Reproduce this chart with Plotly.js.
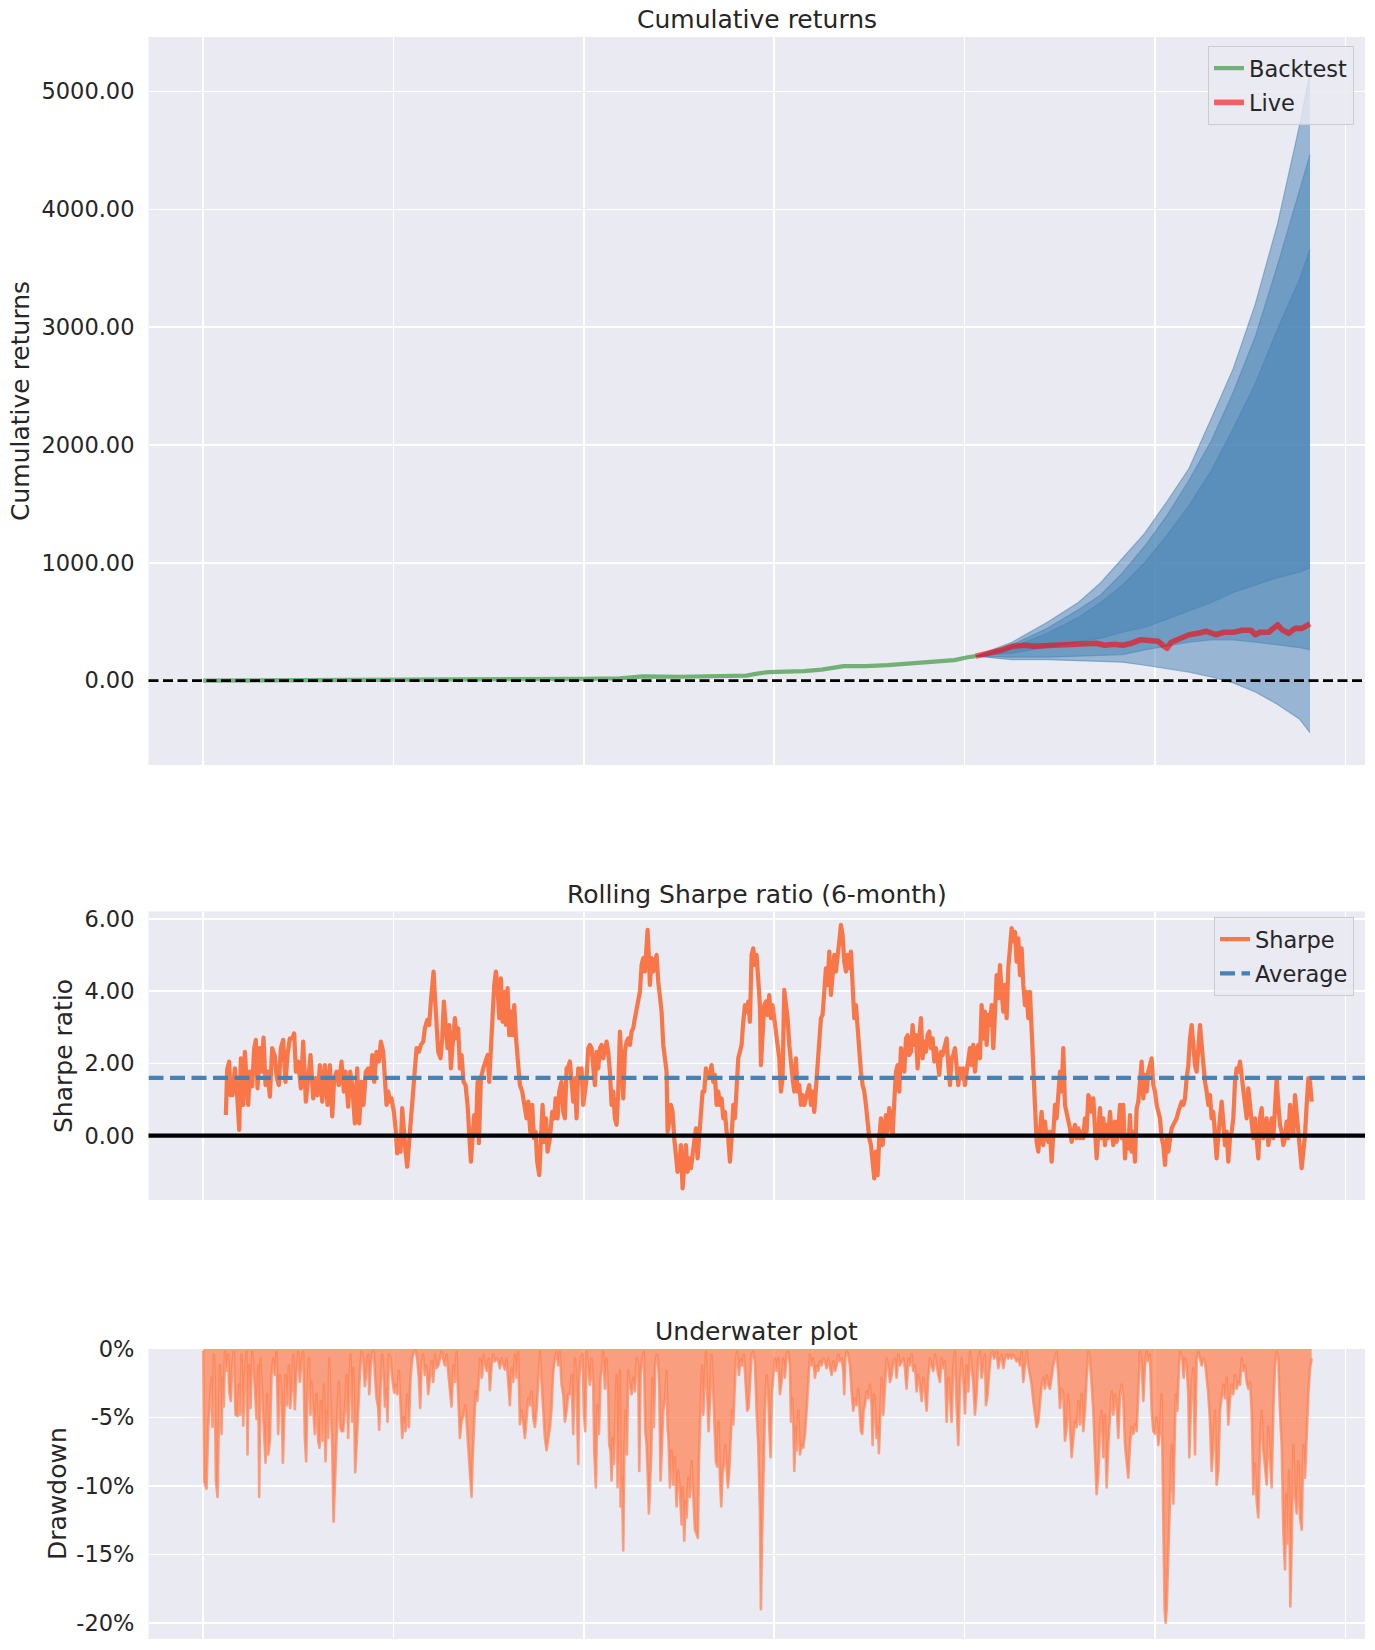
<!DOCTYPE html>
<html><head><meta charset="utf-8">
<script src="https://cdn.plot.ly/plotly-3.0.1.min.js"></script>
<style>
html,body{margin:0;padding:0;background:#fff;}
#chart{width:1375px;height:1650px;}
.js-line{stroke-linejoin:round;}
</style></head>
<body><div id="chart"></div>
<script>
// ---------------- DATA (x = trading-day index from start of backtest) ----------------
const backtestDay = [0,300,600,900,1142,1250,1300,1319,1430,1563,1629,1662,1696,1802,1855,1921,1988,2054,2121,2187,2253,2293,2317];
const backtestCum = [0,2,5,9,14,18,24,35,32,38,42,59,72,80,93,122,122,131,144,156,173,198,207];

const liveDay = [2317,2360,2399,2426,2466,2492,2532,2572,2612,2652,2678,2705,2731,2758,2785,2811,2838,2864,2878,2891,2904,2931,2957,2984,3010,3037,3063,3090,3117,3143,3156,3170,3196,3223,3236,3256,3276,3296,3320];
const liveCum = [207,232,262,291,300,291,296,304,300,308,317,300,308,300,317,346,338,334,300,274,325,359,389,401,418,389,410,410,427,427,389,410,410,473,431,401,443,443,481];

const coneDay     = [2317,2426,2532,2625,2692,2758,2824,2891,2957,3024,3090,3156,3223,3289,3320];
const coneUpper2  = [207,325,494,663,830,1043,1250,1520,1800,2225,2650,3197,3880,4720,5161];
const coneUpper15 = [207,304,443,600,726,916,1140,1400,1700,2035,2450,2920,3530,4168,4464];
const coneUpper1  = [207,283,401,536,663,811,1001,1233,1486,1782,2141,2521,2986,3408,3661];
const coneLower1  = [207,232,283,325,360,410,450,520,590,663,747,811,874,920,958];
const coneLower15 = [207,198,198,207,212,220,260,295,325,346,346,325,304,280,262];
const coneLower2  = [207,177,177,170,163,156,130,100,72,30,-20,-97,-203,-329,-443];
const cumBaseline = 0;

const sharpeDay = [
68,72,78,82,88,95,102,108,113,120,
125,130,135,140,147,153,158,163,170,175,
181,187,193,200,207,215,221,227,233,240,
247,253,260,267,273,278,285,293,300,308,
315,322,330,337,343,350,357,365,373,380,
387,393,400,407,415,422,427,435,441,447,
455,462,468,475,481,488,495,503,507,513,
520,527,533,540,545,550,555,560,565,572,
578,582,587,592,597,602,607,612,618,623,
628,635,640,647,653,660,665,672,678,683,
688,691,695,700,705,712,717,722,728,733,
738,743,749,755,760,765,770,775,781,787,
793,798,803,808,813,818,823,827,833,840,
847,853,858,863,868,873,878,883,888,893,
898,903,908,913,918,923,928,933,938,943,
950,957,965,970,975,981,987,992,997,1002,
1008,1013,1018,1023,1028,1033,1040,1047,1053,1057,
1063,1068,1075,1080,1085,1090,1095,
1100,1105,1110,1115,1120,1125,1130,1135,1140,1145,
1150,1155,1160,1165,1170,1175,1180,1185,1190,1195,
1200,1205,1210,1215,1220,1225,1230,1235,1240,1245,
1250,1255,1260,1265,1270,1275,1280,1285,1290,1295,
1300,1305,1310,1315,1320,1325,1330,1333,1337,1340,
1345,1350,1355,1360,1365,1370,1375,1380,1385,1390,
1393,1398,1403,1408,1413,1418,1423,1428,1433,1438,
1443,1448,1453,1458,1463,1468,1473,1478,1483,1488,
1493,1498,1503,1508,1513,1518,1525,1530,1535,1540,
1545,1550,1555,1560,1565,1570,1575,1580,1585,1590,
1595,1600,1605,1610,1615,1620,1625,1630,1635,1640,
1645,1650,1655,1660,1665,1670,1673,1678,1683,1688,
1693,1698,1703,1708,1713,1718,1723,1728,1733,1738,
1743,1748,1753,1758,1763,1768,1773,1778,1783,1788,
1793,1798,1803,1808,1813,1818,1823,1828,1833,1838,
1843,1848,1853,1858,1863,1868,1873,1878,1883,1888,
1893,1898,1903,1908,1913,1918,1923,1928,1933,1938,
1943,1948,1953,1958,1963,1968,1973,1978,1983,1988,
1993,1998,2003,2008,2013,2018,2023,2028,2033,2038,
2043,2048,2053,2058,2063,2068,2073,2078,2083,2088,
2093,2098,2103,2108,2113,2118,2123,2128,2133,2138,
2143,2148,2153,2158,2163,2168,2173,2178,2183,2188,
2193,2198,2203,2208,2213,2218,2223,
2225,2230,2235,2240,2245,2250,2255,2260,2265,2270,
2275,2280,2285,2290,2295,2300,2305,2310,2315,2320,
2325,2330,2335,2340,2345,2350,2355,2360,2365,2370,
2375,2380,2385,2390,2395,2400,2405,2410,2415,2420,
2425,2430,2435,2440,2445,2450,2455,2460,2465,2470,
2475,2480,2485,2490,2495,2500,2505,2510,2515,2520,
2525,2530,2535,2540,2545,2550,2555,2560,2565,2570,
2575,2580,2585,2590,2595,2600,2605,2610,2615,2620,
2625,2630,2635,2640,2645,2650,2655,2660,2665,2670,
2675,2680,2685,2690,2695,2700,2705,2710,2715,2720,
2725,2730,2735,2740,2745,2750,2755,2760,2765,2770,
2775,2780,2785,2790,2795,2800,2805,2810,2815,2820,
2825,2830,2835,2840,2845,2850,2855,2860,2865,2870,
2875,2880,2885,2890,2895,2900,2905,2910,2915,2920,
2925,2930,2935,2940,2945,2950,2955,2960,2965,2970,
2975,2980,2985,2990,2995,3000,3005,3010,3015,3020,
3025,3030,3035,3040,3045,3050,3055,3060,3065,3070,
3075,3080,3085,3090,3095,3100,3105,3110,3115,3120,
3125,3130,3135,3140,3145,3150,3155,3160,3165,3170,
3175,3180,3185,3190,3195,3200,3205,3210,3215,3220,
3225,3230,3235,3240,3245,3250,3255,3260,3265,3270,
3275,3280,3285,3290,3295,3300,3305,3310,3315,3320,
3325];
const sharpeValue = [
0.57,1.82,2.05,1.12,1.12,1.86,1.12,0.16,2.14,0.85,
2.32,1.59,0.85,1.77,1.36,2.42,2.65,1.31,2.42,1.77,
2.71,1.40,1.77,1.08,2.42,2.19,1.59,1.40,2.42,2.65,
1.49,2.23,2.69,2.69,2.83,1.77,2.05,1.31,2.60,0.94,
1.77,2.23,1.03,1.59,1.12,1.95,0.94,1.95,0.85,1.95,
0.53,1.59,1.77,1.40,2.05,1.22,1.77,0.80,1.77,1.40,
0.34,1.86,0.34,1.49,0.85,1.77,1.86,1.59,2.23,1.49,
2.32,2.05,2.60,2.32,1.59,0.85,1.22,0.94,1.03,0.66,
0.11,-0.49,-0.07,-0.44,0.76,-0.07,-0.44,-0.86,-0.07,0.48,
1.22,1.77,2.42,2.32,2.51,2.60,2.97,3.20,3.06,3.71,
4.35,4.54,3.89,3.15,2.32,2.14,2.69,3.71,2.88,2.42,
3.06,1.86,2.60,3.25,2.69,2.97,1.86,2.23,1.49,1.40,
0.85,0.11,-0.72,-0.07,0.57,0.02,1.49,-0.21,1.59,1.86,
2.05,2.23,1.49,2.51,3.52,4.17,4.54,4.08,3.25,4.35,
3.15,3.98,3.06,4.08,2.78,3.43,2.78,3.61,2.74,2.05,
1.40,1.22,0.85,0.48,0.94,0.11,0.85,-0.07,0.11,-0.72,
-1.09,-0.07,0.85,-0.17,0.48,-0.44,-0.07,0.66,0.48,1.03,
0.48,1.22,1.49,0.66,0.48,1.86,1.91,
2.05,1.59,0.94,1.59,0.48,1.86,1.59,1.86,0.85,1.22,
1.59,2.42,2.51,2.42,1.77,1.40,2.32,1.86,2.42,2.51,
2.14,2.42,2.60,2.32,1.77,0.85,1.22,0.48,0.30,1.22,
2.88,2.05,1.03,2.32,2.60,2.69,2.51,2.88,2.97,3.25,
3.52,3.71,3.98,4.72,4.91,4.54,5.55,5.69,4.91,4.17,
4.91,4.54,4.81,5.00,4.26,3.80,3.43,2.51,2.23,1.77,
0.11,0.39,0.85,0.66,-0.07,-0.63,-1.00,-0.81,-0.26,-1.46,
-0.72,-0.26,-1.00,-0.63,-0.90,-0.53,0.02,0.20,-0.63,-0.07,
0.48,1.22,1.22,1.86,1.59,1.59,1.95,1.49,1.68,0.85,
1.22,0.85,1.03,0.48,0.66,0.11,-0.07,-0.72,-0.07,0.85,
0.48,1.59,2.14,2.32,2.51,3.15,3.61,3.43,3.71,3.15,
5.00,5.18,4.72,5.00,4.26,3.61,1.95,2.88,3.61,3.71,
3.34,3.89,3.25,3.61,3.25,3.06,2.69,2.14,1.22,1.59,
4.03,3.71,3.25,2.51,1.95,1.59,1.22,2.14,1.22,1.40,
0.85,1.12,0.85,1.03,1.22,1.40,0.85,1.22,0.66,1.31,
1.77,2.51,3.25,3.34,3.89,4.63,4.17,5.09,3.89,4.35,
5.00,4.54,5.09,5.37,5.83,5.55,4.81,4.54,5.00,4.63,
5.09,3.98,3.25,3.61,2.88,2.32,1.77,1.40,1.22,0.85,
0.30,-0.07,-0.26,-0.90,-1.18,-0.44,-1.09,-0.07,0.48,-0.26,
0.30,0.57,0.11,0.76,0.48,0.02,0.94,1.77,1.95,1.22,
2.42,2.14,1.77,2.69,2.78,2.23,2.32,3.06,2.51,2.78,
1.86,2.69,3.25,2.14,2.60,2.32,2.78,2.88,2.42,2.69,
2.05,2.42,1.95,1.68,2.32,2.23,2.42,
2.51,2.69,1.95,1.40,2.14,2.23,2.42,1.77,1.40,1.86,
1.59,1.86,1.40,1.77,2.14,2.42,1.95,2.51,1.77,2.32,
2.51,2.14,3.61,2.69,3.43,2.51,3.34,3.06,3.61,2.42,
3.34,4.44,3.80,4.72,3.98,3.43,4.17,3.25,4.63,5.18,
5.74,5.37,5.64,4.81,5.46,4.44,5.18,4.17,3.61,3.98,
3.25,3.98,2.69,2.05,0.85,-0.17,-0.44,0.11,0.66,-0.26,
0.39,-0.07,-0.17,0.11,-0.72,0.02,0.85,0.48,1.03,1.77,
1.22,2.42,0.85,0.66,0.48,0.20,-0.17,0.11,0.30,-0.07,
0.20,-0.07,0.11,-0.07,0.48,0.11,1.12,1.03,0.66,1.03,
0.30,-0.63,0.11,0.76,-0.07,0.48,-0.26,0.30,-0.07,0.66,
0.11,-0.26,0.39,-0.17,0.20,0.85,-0.07,0.85,-0.63,0.02,
-0.35,0.57,-0.44,0.11,-0.72,0.76,0.94,1.40,2.05,1.03,
1.68,1.22,1.77,1.95,2.14,1.40,1.22,0.85,0.66,0.48,
-0.07,-0.26,-0.81,-0.07,-0.44,0.02,0.20,0.30,0.39,0.48,
0.66,0.85,0.94,0.85,1.03,1.59,1.95,2.69,3.06,2.51,
1.95,1.77,2.32,3.06,2.51,1.95,1.49,1.22,0.85,1.12,
0.48,0.66,-0.07,-0.63,0.02,0.48,0.94,0.39,-0.26,0.11,
-0.72,-0.07,0.11,0.48,1.49,1.86,1.77,2.05,1.59,1.22,
0.85,0.48,1.31,0.85,0.30,-0.07,0.48,-0.07,-0.63,0.48,
0.76,-0.07,0.11,0.48,-0.26,0.11,0.48,-0.07,0.85,1.59,
0.85,0.30,0.11,-0.26,-0.07,0.39,-0.07,0.85,0.48,0.02,
1.12,0.66,-0.07,-0.44,-0.90,-0.44,0.02,0.85,1.59,1.49,
0.94];
const sharpeAverage = 1.60;

const drawdownDay = [
0,1,3,10,15,20,25,28,32,35,
38,43,47,50,55,58,62,65,70,75,
78,83,87,92,97,103,108,111,115,120,
125,130,133,137,142,147,153,160,165,168,
172,177,182,187,192,195,200,205,210,215,
220,225,230,235,239,243,247,252,257,261,
265,270,275,280,285,290,293,300,305,309,
313,317,322,325,330,335,340,345,349,353,
358,362,367,371,375,378,383,387,391,395,
399,403,407,411,415,420,425,430,435,438,
442,447,451,456,461,465,470,475,480,485,
490,495,498,502,507,512,515,520,525,528,
532,537,542,545,549,553,557,562,567,573,
577,582,587,592,597,602,607,612,617,622,
627,632,637,642,647,651,655,660,665,670,
675,680,685,690,695,700,705,710,715,720,
725,730,735,740,745,750,755,760,765,770,
775,781,787,792,797,801,805,808,813,817,
822,827,831,836,841,846,851,856,860,865,
870,875,880,885,890,895,900,905,910,915,
920,925,930,935,940,945,950,955,960,965,
970,975,980,985,990,995,1000,1005,1010,1015,
1020,1025,1030,1035,1040,1045,1050,1055,1060,1065,
1070,1075,1080,1085,1090,1095,
1100,1105,1110,1115,1120,1125,1128,1133,1138,1142,
1146,1150,1155,1160,1165,1170,1173,1178,1182,1187,
1192,1197,1200,1205,1210,1215,1218,1222,1225,1228,
1232,1236,1240,1243,1247,1250,1252,1256,1260,1263,
1267,1271,1275,1280,1285,1290,1295,1300,1305,1308,
1312,1317,1322,1326,1330,1334,1337,1340,1344,1348,
1352,1356,1360,1364,1368,1372,1376,1380,1385,1390,
1393,1396,1400,1405,1410,1415,1420,1425,1430,1435,
1438,1443,1447,1450,1455,1460,1465,1470,1475,1480,
1484,1487,1491,1496,1500,1504,1508,1512,1516,1520,
1525,1530,1534,1538,1542,1546,1550,1554,1558,1562,
1566,1570,1574,1578,1582,1586,1590,1594,1598,1602,
1607,1612,1617,1622,1627,1632,1636,1640,1645,1650,
1655,1660,1665,1670,1673,1676,1680,1685,1690,1695,
1698,1702,1706,1710,1715,1720,1725,1730,1735,1740,
1745,1750,1755,1760,1763,1767,1770,1773,1777,1780,
1785,1790,1795,1800,1805,1810,1815,1820,1825,1830,
1835,1840,1845,1850,1855,1860,1865,1870,1875,1880,
1885,1890,1895,1900,1905,1910,1915,1920,1923,1926,
1930,1935,1940,1945,1950,1955,1960,1965,1970,1973,
1977,1981,1985,1990,1995,2000,2005,2008,2012,2016,
2020,2024,2027,2031,2035,2040,2045,2050,2055,2060,
2065,2070,2075,2080,2085,2090,2095,2100,2105,2110,
2115,2120,2125,2130,2135,2140,2145,2150,2155,2160,
2165,2170,2175,2180,2185,2190,2195,2200,2205,2210,
2215,2220,
2225,2230,2235,2240,2245,2250,2255,2260,2265,2270,
2275,2280,2285,2290,2295,2300,2305,2310,2315,2320,
2325,2330,2335,2340,2345,2348,2353,2358,2363,2368,
2373,2380,2385,2390,2395,2400,2405,2410,2415,2420,
2425,2430,2435,2440,2445,2450,2455,2460,2465,2470,
2475,2480,2485,2490,2495,2500,2505,2510,2515,2520,
2525,2530,2535,2540,2545,2550,2555,2560,2565,2570,
2575,2580,2585,2590,2595,2600,2605,2610,2615,2620,
2625,2630,2635,2640,2645,2650,2655,2660,2665,2670,
2675,2680,2685,2690,2695,2700,2705,2710,2715,2720,
2725,2730,2735,2740,2745,2750,2755,2760,2765,2770,
2775,2780,2785,2790,2795,2800,2805,2810,2815,2820,
2825,2830,2835,2840,2845,2850,2855,2860,2865,2870,
2875,2878,2881,2884,2887,2890,2893,2896,2899,2902,
2905,2910,2913,2917,2922,2927,2931,2937,2941,2945,
2950,2955,2958,2962,2965,2970,2975,2980,2985,2990,
2995,3000,3005,3010,3015,3020,3025,3030,3035,3040,
3045,3050,3055,3060,3065,3070,3075,3080,3085,3090,
3095,3100,3105,3110,3115,3120,3125,3130,3135,3140,
3145,3150,3155,3160,3165,3170,3175,3180,3185,3190,
3195,3200,3205,3210,3215,3220,3225,3230,3235,3240,
3245,3249,3253,3257,3261,3265,3270,3275,3280,3285,
3290,3295,3300,3305,3310,3315,3320,3325];
const drawdownPct = [
-0.1,-7.0,-9.7,-10.2,-5.7,-3.8,-2.1,-5.7,-0.4,-2.2,
-9.6,-10.8,-4.5,-1.2,-6.2,-2.1,-4.2,-0.2,-1.6,-0.4,
-3.1,-3.8,-1.2,-0.2,-4.8,-4.9,-2.6,-4.8,-0.4,-5.6,
-1.9,-0.2,-7.7,-1.2,-4.3,-0.2,-1.9,-5.1,-1.2,-10.8,
-0.7,-3.6,-5.3,-8.3,-3.3,-7.7,-6.7,-1.9,-0.7,-1.9,
-0.2,-6.2,-1.9,-3.3,-8.3,-4.4,-1.9,-4.1,-1.2,-4.3,
-3.1,-0.4,-4.4,-1.6,-0.2,-2.4,-1.4,-0.2,-6.5,-8.2,
-2.9,-0.7,-4.8,-2.4,-4.1,-6.2,-3.3,-6.7,-7.2,-3.8,
-6.7,-2.6,-8.2,-4.5,-6.5,-0.7,-4.5,-7.0,-12.6,-9.3,
-6.5,-4.5,-2.4,-5.7,-6.0,-6.0,-4.5,-1.9,-6.5,-2.6,
-0.4,-5.3,-1.4,-9.0,-6.6,-4.1,-1.8,-0.2,-0.7,-2.7,
-1.6,-0.4,-3.3,-1.4,-0.2,-0.2,-1.8,-3.6,-4.3,-5.9,
-2.9,-0.4,-2.1,-4.2,-2.9,-5.3,-0.4,-0.7,-2.1,-3.2,
-2.6,-3.3,-1.6,-3.8,-6.5,-5.0,-6.0,-3.3,-5.7,-2.1,
-0.7,-0.2,-0.1,-0.7,-2.1,-4.3,-1.2,-0.4,-1.9,-1.2,
-3.3,-2.1,-0.9,-2.4,-0.4,-1.4,-1.2,-0.7,-0.2,-0.7,
-1.2,-0.4,-1.6,-3.3,-4.2,-1.2,-2.4,-0.2,-3.3,-6.5,
-5.3,-4.8,-4.1,-6.0,-7.7,-9.6,-10.8,-8.2,-5.7,-3.1,
-3.8,-1.9,-0.7,-2.1,-0.4,-1.2,-1.6,-0.7,-3.0,-1.2,
-0.4,-0.9,-0.7,-0.8,-1.4,-0.7,-1.2,-1.5,-0.7,-2.6,
-4.1,-1.4,-2.4,-0.4,-2.1,-0.2,-5.5,-4.5,-5.3,-6.5,
-5.0,-3.6,-4.1,-3.1,-5.0,-5.7,-4.5,-2.6,-0.2,-2.4,
-4.5,-6.5,-7.4,-6.7,-5.7,-4.3,-1.6,-0.7,-0.2,-1.2,
-0.2,-2.6,-3.3,-5.3,-4.5,-3.3,
-3.3,-1.9,-6.2,-0.7,-2.6,-8.4,-2.1,-0.7,-0.4,-4.8,
-6.0,-0.2,-1.6,-2.6,-0.7,-2.6,-7.4,-10.1,-4.1,-6.2,
-2.1,-1.2,-0.2,-2.9,-0.7,-3.3,-7.0,-7.4,-9.6,-6.5,
-8.4,-5.3,-1.9,-10.1,-7.7,-1.6,-11.5,-9.4,-14.7,-7.9,
-4.5,-7.7,-1.6,-2.6,-3.3,-2.1,-3.1,-0.7,-1.2,-8.9,
-1.9,-0.7,-0.2,-6.0,-7.0,-9.6,-12.0,-10.1,-7.7,-2.1,
-5.7,-1.2,-0.4,-0.7,-2.6,-9.6,-7.0,-4.5,-3.8,-1.6,
-5.7,-6.7,-10.1,-7.4,-9.9,-7.9,-11.5,-8.9,-10.3,-12.8,
-10.1,-14.0,-11.1,-12.3,-9.4,-10.8,-8.2,-10.6,-13.2,-13.5,
-13.8,-8.2,-4.5,-1.2,-4.8,-2.1,-0.2,-3.3,-6.0,-3.8,
-0.4,-3.1,-6.0,-8.2,-8.6,-5.3,-9.4,-11.5,-9.1,-8.4,
-7.0,-8.4,-10.1,-8.9,-6.5,-4.5,-5.5,-2.4,-0.7,-0.2,
-1.9,-0.7,-1.2,-0.4,-2.1,-4.5,-4.3,-2.1,-0.4,-0.2,
-0.9,-4.5,-7.0,-11.8,-19.0,-14.2,-9.4,-4.5,-1.9,-3.3,
-5.7,-7.9,-3.3,-1.9,-0.7,-1.6,-0.7,-3.3,-2.4,-0.7,
-2.1,-0.4,-0.2,-1.2,-5.3,-3.6,-5.3,-8.9,-5.7,-7.4,
-4.5,-7.7,-7.0,-7.2,-6.2,-4.5,-2.1,-0.4,-1.2,-0.7,
-2.1,-1.2,-1.6,-0.9,-1.2,-0.7,-0.9,-1.4,-0.7,-1.2,
-1.9,-0.9,-1.6,-1.2,-0.4,-0.9,-0.7,-1.6,-3.3,-0.7,
-0.2,-0.4,-1.2,-3.1,-4.5,-3.6,-4.1,-2.9,-4.5,-6.0,
-6.2,-4.5,-4.1,-3.1,-3.6,-2.6,-4.1,-7.0,-3.3,-4.5,
-6.5,-5.7,-7.6,-4.5,-2.1,-4.8,-2.6,-0.7,-1.2,-2.4,
-1.9,-0.9,-0.7,-2.1,-0.4,-1.2,-0.9,-0.7,-1.4,-2.9,
-0.7,-1.2,-0.4,-1.6,-1.2,-3.1,-1.9,-2.6,-3.8,-2.1,
-3.1,-4.5,-2.1,-0.7,-1.2,-1.6,-0.4,-1.2,-1.9,-2.4,
-0.7,-1.4,
-0.9,-5.3,-2.1,-3.3,-5.3,-1.2,-0.2,-4.1,-7.0,-2.6,
-0.7,-2.1,-4.7,-1.2,-3.1,-0.2,-1.2,-2.4,-4.8,-3.3,
-0.7,-0.2,-2.1,-1.2,-0.4,-4.1,-3.3,-1.6,-0.4,-0.2,
-0.7,-0.2,-1.4,-0.7,-0.4,-1.4,-0.7,-0.4,-0.7,-0.4,
-0.7,-0.4,-0.7,-0.9,-0.7,-1.2,-0.2,-2.4,-1.2,-0.2,
-1.2,-1.9,-2.6,-3.8,-4.8,-5.7,-5.3,-4.1,-2.6,-2.1,
-2.9,-1.9,-2.6,-2.9,-1.9,-1.2,-0.7,-0.2,-1.9,-4.3,
-2.9,-3.3,-6.7,-5.7,-3.3,-5.7,-7.9,-6.5,-5.3,-5.7,
-3.8,-5.5,-3.3,-6.0,-4.5,-2.1,-0.2,-0.7,-2.6,-4.5,
-7.7,-10.6,-9.1,-5.7,-4.5,-7.9,-4.8,-10.1,-7.0,-4.5,
-3.1,-4.8,-3.3,-4.1,-6.5,-3.3,-2.6,-3.6,-7.0,-8.2,
-9.4,-7.0,-5.7,-6.2,-5.5,-6.0,-3.3,-0.2,-0.9,-3.8,
-1.2,-0.2,-0.9,-0.4,-4.5,-6.0,-6.2,-5.0,-7.0,-6.0,
-3.3,-11.8,-14.2,-19.0,-20.0,-19.0,-16.6,-14.2,-12.5,-9.4,
-7.0,-11.3,-8.2,-3.3,-4.5,-1.2,-0.2,-0.7,-2.1,-0.7,
-1.2,-3.3,-7.9,-5.5,-2.6,-1.4,-7.7,-0.7,-0.2,-0.7,
-1.2,-0.7,-0.9,-2.1,-3.3,-5.3,-8.9,-7.0,-4.5,-9.9,
-8.9,-4.5,-3.3,-2.6,-3.6,-2.1,-5.5,-3.6,-2.6,-3.3,
-1.9,-2.9,-2.4,-2.6,-0.7,-1.6,-1.2,-2.4,-2.9,-2.4,
-4.5,-10.6,-8.4,-11.1,-12.3,-7.0,-4.5,-7.4,-8.6,-9.9,
-5.7,-7.7,-10.1,-4.5,-1.2,-0.2,-0.7,-4.5,-7.0,-13.2,
-16.1,-10.6,-14.2,-8.9,-18.8,-14.2,-7.0,-10.6,-12.0,-8.2,
-12.3,-13.2,-7.0,-9.4,-5.7,-3.3,-1.4,-0.7];
const drawdownTickVals = [0,-5,-10,-15,-20];
const drawdownTickText = ['0%','-5%','-10%','-15%','-20%'];

// ---------------- STYLE ----------------
const FONT = 'DejaVu Sans, sans-serif';
const TEXT = '#262626';
const BG = '#EAEAF2';
const W = 1375, H = 1650;
const xRange = [-164, 3485];
const xDom = [148.5 / W, 1365 / W];
const py = v => 1 - v / H; // pixel row -> paper y

const traces = [];
traces.push({x: backtestDay, y: backtestCum, type: 'scatter', mode: 'lines', name: 'Backtest',
  line: {color: 'rgba(34,139,34,0.6)', width: 4.2}, xaxis: 'x', yaxis: 'y', legend: 'legend', legendgroup: 'a'});
const coneBands = [[coneLower1, coneUpper1], [coneLower15, coneUpper15], [coneLower2, coneUpper2]];
coneBands.forEach(([lo, hi]) => {
  traces.push({x: coneDay, y: lo, type: 'scatter', mode: 'lines', showlegend: false, hoverinfo: 'skip',
    line: {color: 'rgba(70,130,180,0.5)', width: 1.2}, xaxis: 'x', yaxis: 'y'});
  traces.push({x: coneDay, y: hi, type: 'scatter', mode: 'lines', showlegend: false, hoverinfo: 'skip',
    fill: 'tonexty', fillcolor: 'rgba(70,130,180,0.5)',
    line: {color: 'rgba(70,130,180,0.5)', width: 1.2}, xaxis: 'x', yaxis: 'y'});
});
traces.push({x: liveDay, y: liveCum, type: 'scatter', mode: 'lines', name: 'Live',
  line: {color: 'rgba(255,0,0,0.6)', width: 5.6}, xaxis: 'x', yaxis: 'y', legend: 'legend', legendgroup: 'b'});

traces.push({x: sharpeDay, y: sharpeValue, type: 'scatter', mode: 'lines', name: 'Sharpe',
  line: {color: 'rgba(255,69,0,0.7)', width: 4.2}, xaxis: 'x2', yaxis: 'y2', legend: 'legend2', legendgroup: 'c'});
traces.push({x: xRange, y: [sharpeAverage, sharpeAverage], type: 'scatter', mode: 'lines', name: 'Average',
  line: {color: '#4682B4', width: 4.2, dash: '15px,6.5px'}, xaxis: 'x2', yaxis: 'y2', legend: 'legend2', legendgroup: 'd'});

traces.push({x: drawdownDay, y: drawdownPct, type: 'scatter', mode: 'lines', showlegend: false,
  fill: 'tozeroy', fillcolor: 'rgba(255,127,80,0.7)',
  line: {color: 'rgba(255,127,80,0.7)', width: 2.6}, xaxis: 'x3', yaxis: 'y3'});

const xBase = {domain: xDom, range: xRange, tickmode: 'linear', tick0: 0, dtick: 571,
  showticklabels: false, ticks: '', showgrid: true, gridcolor: '#FFFFFF', gridwidth: 1.6,
  zeroline: false, showline: false, fixedrange: true};
const yBase = {showgrid: true, gridcolor: '#FFFFFF', gridwidth: 1.6, zeroline: false, showline: false,
  ticks: '', ticklabelstandoff: 13, tickfont: {family: FONT, size: 22.5, color: TEXT}, fixedrange: true};

const legendBase = {xanchor: 'right', yanchor: 'top', bgcolor: 'rgba(234,234,242,0.8)',
  bordercolor: '#CCCCCC', borderwidth: 1, font: {family: FONT, size: 22.5, color: TEXT}, tracegroupgap: 2};

const ann = (text, x, y, extra) => Object.assign({text, x, y, xref: 'paper', yref: 'paper', showarrow: false,
  xanchor: 'center', yanchor: 'middle', font: {family: FONT, size: 25, color: TEXT}}, extra || {});
const plotCenter = (xDom[0] + xDom[1]) / 2;

const layout = {
  width: W, height: H, margin: {l: 0, r: 0, t: 0, b: 0},
  paper_bgcolor: '#FFFFFF', plot_bgcolor: BG,
  font: {family: FONT, color: TEXT, size: 22.5},
  showlegend: true,
  xaxis: Object.assign({}, xBase, {anchor: 'y'}),
  xaxis2: Object.assign({}, xBase, {anchor: 'y2'}),
  xaxis3: Object.assign({}, xBase, {anchor: 'y3'}),
  yaxis: Object.assign({}, yBase, {anchor: 'x', domain: [py(765), py(37)], range: [-717, 5463],
    tickmode: 'linear', tick0: 0, dtick: 1000, tickformat: '.2f'}),
  yaxis2: Object.assign({}, yBase, {anchor: 'x2', domain: [py(1200), py(911.5)], range: [-1.78, 6.20],
    tickmode: 'linear', tick0: 0, dtick: 2, tickformat: '.2f'}),
  yaxis3: Object.assign({}, yBase, {anchor: 'x3', domain: [py(1639), py(1349)], range: [-21.17, 0],
    tickmode: 'array', tickvals: drawdownTickVals, ticktext: drawdownTickText}),
  legend: Object.assign({}, legendBase, {x: 1354 / W, y: py(46)}),
  legend2: Object.assign({}, legendBase, {x: 1354 / W, y: py(917)}),
  shapes: [
    {type: 'line', xref: 'x domain', x0: 0, x1: 1, yref: 'y', y0: cumBaseline, y1: cumBaseline,
      line: {color: '#000000', width: 2.8, dash: '10px,4.5px'}, layer: 'above'},
    {type: 'line', xref: 'x2 domain', x0: 0, x1: 1, yref: 'y2', y0: 0, y1: 0,
      line: {color: '#000000', width: 4.2}, layer: 'above'}
  ],
  annotations: [
    ann('Cumulative returns', plotCenter, py(20)),
    ann('Rolling Sharpe ratio (6-month)', plotCenter, py(894)),
    ann('Underwater plot', plotCenter, py(1331)),
    ann('Cumulative returns', 20 / W, py(401), {textangle: -90}),
    ann('Sharpe ratio', 63 / W, py(1056), {textangle: -90}),
    ann('Drawdown', 57 / W, py(1494), {textangle: -90})
  ]
};

Plotly.newPlot('chart', traces, layout, {displayModeBar: false, staticPlot: true});
</script>
</body></html>
